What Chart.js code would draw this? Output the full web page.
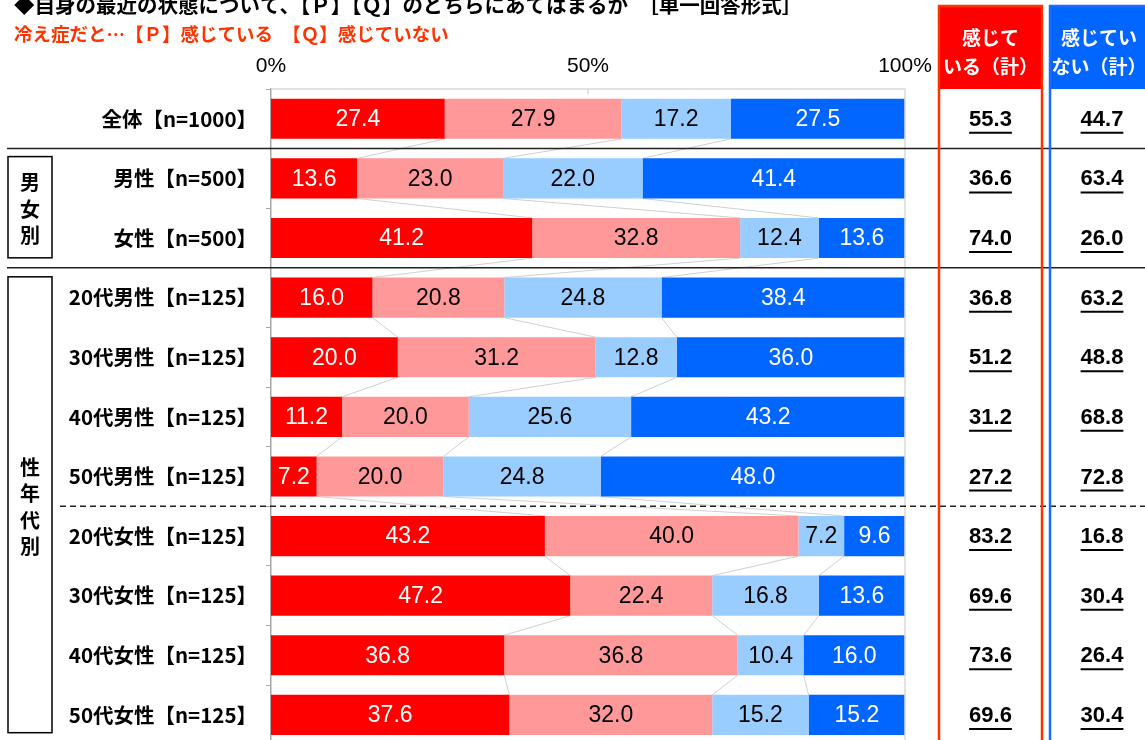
<!DOCTYPE html>
<html>
<head>
<meta charset="utf-8">
<script src="https://cdn.jsdelivr.net/npm/chart.js@4"></script>
<style>
  html, body { margin: 0; padding: 0; background: #fff; overflow: hidden; }
  canvas { display: block; }
</style>
</head>
<body>
<canvas id="chart" width="1145" height="766"></canvas>
<script>
// rows, top to bottom
const categories = [
  "全体【n=1000】",
  "男性【n=500】", "女性【n=500】",
  "20代男性【n=125】", "30代男性【n=125】", "40代男性【n=125】", "50代男性【n=125】",
  "20代女性【n=125】", "30代女性【n=125】", "40代女性【n=125】", "50代女性【n=125】"
];
const seriesNames = ["Pに近い", "どちらかといえばP", "どちらかといえばQ", "Qに近い"];
const pStrong = [27.4, 13.6, 41.2, 16.0, 20.0, 11.2, 7.2, 43.2, 47.2, 36.8, 37.6];
const pWeak   = [27.9, 23.0, 32.8, 20.8, 31.2, 20.0, 20.0, 40.0, 22.4, 36.8, 32.0];
const qWeak   = [17.2, 22.0, 12.4, 24.8, 12.8, 25.6, 24.8,  7.2, 16.8, 10.4, 15.2];
const qStrong = [27.5, 41.4, 13.6, 38.4, 36.0, 43.2, 48.0,  9.6, 13.6, 16.0, 15.2];
// 感じている(計) / 感じていない(計)
const totalFeel    = [55.3, 36.6, 74.0, 36.8, 51.2, 31.2, 27.2, 83.2, 69.6, 73.6, 69.6];
const totalNotFeel = [44.7, 63.4, 26.0, 63.2, 48.8, 68.8, 72.8, 16.8, 30.4, 26.4, 30.4];
const xTicks = [0, 50, 100];

const colors = ["#FF0000", "#FF9999", "#99CCFF", "#0066FF"];
const labelColors = ["#FFFFFF", "#000000", "#000000", "#FFFFFF"];
const seriesValues = [pStrong, pWeak, qWeak, qStrong];

const JP = '"Noto Sans CJK JP", sans-serif';
const NUM = '"Liberation Sans", Arial, sans-serif';

// segment value labels
const barLabels = {
  id: "barLabels",
  afterDatasetsDraw(chart) {
    const c = chart.ctx;
    c.save();
    c.font = "23px " + NUM;
    c.textAlign = "center";
    c.textBaseline = "middle";
    chart.data.datasets.forEach((ds, di) => {
      chart.getDatasetMeta(di).data.forEach((bar, i) => {
        c.fillStyle = labelColors[di];
        c.fillText(ds.data[i].toFixed(1), (bar.x + bar.base) / 2, bar.y + 1);
      });
    });
    c.restore();
  }
};

// thin connector lines between rows
const seriesLines = {
  id: "seriesLines",
  beforeDatasetsDraw(chart) {
    const c = chart.ctx;
    const xs = chart.scales.x;
    const meta = chart.getDatasetMeta(0).data;
    c.save();
    c.strokeStyle = "#D0D0D0";
    c.lineWidth = 1;
    for (let i = 0; i < categories.length - 1; i++) {
      let cumA = 0, cumB = 0;
      for (let k = 0; k < 3; k++) {
        cumA += seriesValues[k][i];
        cumB += seriesValues[k][i + 1];
        c.beginPath();
        c.moveTo(xs.getPixelForValue(cumA), meta[i].y + meta[i].height / 2);
        c.lineTo(xs.getPixelForValue(cumB), meta[i + 1].y - meta[i + 1].height / 2);
        c.stroke();
      }
    }
    c.restore();
  }
};

const decor = {
  id: "decor",
  beforeDraw(chart) {
    const c = chart.ctx;
    c.save();
    c.fillStyle = "#fff";
    c.fillRect(0, 0, chart.width, chart.height);
    c.restore();
  },
  afterDraw(chart) {
    const c = chart.ctx;
    const a = chart.chartArea;
    const step = (a.bottom - a.top) / categories.length;
    const edge = i => a.top + step * i;
    c.save();

    // plot frame
    c.strokeStyle = "#D9D9D9";
    c.lineWidth = 1.5;
    c.beginPath();
    c.moveTo(a.left, a.top);
    c.lineTo(a.right, a.top);
    c.lineTo(a.right, a.bottom);
    c.stroke();
    c.beginPath();
    const mid = chart.scales.x.getPixelForValue(50);
    c.moveTo(mid, a.top);
    c.lineTo(mid, a.top + 5);
    c.stroke();

    // title
    c.textBaseline = "middle";
    c.textAlign = "left";
    c.fillStyle = "#000";
    c.font = "bold 20.5px " + JP;
    c.fillText("◆自身の最近の状態について、【Ｐ】【Ｑ】のどちらにあてはまるか　［単一回答形式］", 14, 5);
    c.fillStyle = "#FF3300";
    c.font = "bold 18.5px " + JP;
    c.fillText("冷え症だと…【Ｐ】感じている　【Ｑ】感じていない", 14, 34);

    // group separators
    c.strokeStyle = "#222";
    c.lineWidth = 1.5;
    [1, 3].forEach(i => {
      c.beginPath();
      c.moveTo(7, edge(i));
      c.lineTo(chart.width, edge(i));
      c.stroke();
    });
    c.setLineDash([6, 4]);
    c.beginPath();
    c.moveTo(60, edge(7));
    c.lineTo(chart.width, edge(7));
    c.stroke();
    c.setLineDash([]);

    // group boxes
    c.strokeStyle = "#000";
    c.lineWidth = 1.5;
    const box = (top, bottom, chars) => {
      c.strokeRect(8, top, 44, bottom - top);
      c.fillStyle = "#000";
      c.font = "bold 20px " + JP;
      c.textAlign = "center";
      const cy = (top + bottom) / 2 + 2;
      chars.forEach((ch, k) => {
        c.fillText(ch, 30, cy + (k - (chars.length - 1) / 2) * 26.5);
      });
    };
    box(edge(1) + 8, edge(3) - 10, ["男", "女", "別"]);
    box(edge(3) + 9, edge(11) - 12, ["性", "年", "代", "別"]);

    // total columns
    const redL = 939, redR = 1042, blueL = 1050, blueR = 1150;
    const hTop = 6, hBot = a.top;
    c.fillStyle = "#FF0000";
    c.fillRect(redL, hTop, redR - redL, hBot - hTop);
    c.fillStyle = "#0066FF";
    c.fillRect(blueL, hTop, blueR - blueL, hBot - hTop);
    c.lineWidth = 2.5;
    c.strokeStyle = "#FF3300";
    c.strokeRect(redL, hTop, redR - redL, chart.height + 10);
    c.strokeStyle = "#1A6CFF";
    c.strokeRect(blueL, hTop, blueR - blueL, chart.height + 10);

    c.fillStyle = "#fff";
    c.font = "bold 19px " + JP;
    c.textAlign = "center";
    const redC = (redL + redR) / 2, blueC = 1099;
    c.fillText("感じて", redC, 38);
    c.fillText("いる（計）", redC, 67);
    c.fillText("感じてい", blueC, 38);
    c.fillText("ない（計）", blueC, 67);

    c.fillStyle = "#000";
    c.strokeStyle = "#000";
    c.lineWidth = 2;
    c.font = "bold 22px " + NUM;
    const meta = chart.getDatasetMeta(0).data;
    const cell = (txt, x, y) => {
      c.fillText(txt, x, y);
      const w = c.measureText(txt).width;
      c.beginPath();
      c.moveTo(x - w / 2, y + 13);
      c.lineTo(x + w / 2, y + 13);
      c.stroke();
    };
    meta.forEach((bar, i) => {
      cell(totalFeel[i].toFixed(1), redC, bar.y + 1);
      cell(totalNotFeel[i].toFixed(1), 1102, bar.y + 1);
    });
    c.restore();
  }
};

new Chart(document.getElementById("chart"), {
  type: "bar",
  data: {
    labels: categories,
    datasets: seriesValues.map((vals, k) => ({
      label: seriesNames[k],
      data: vals,
      backgroundColor: colors[k],
      borderWidth: 0,
      barPercentage: 0.673,
      categoryPercentage: 1.0
    }))
  },
  options: {
    indexAxis: "y",
    responsive: false,
    animation: false,
    devicePixelRatio: 1,
    layout: { padding: { left: 0, right: 240, top: 0, bottom: 0 } },
    plugins: {
      legend: { display: false },
      tooltip: { enabled: false }
    },
    scales: {
      x: {
        position: "top",
        stacked: true,
        min: 0,
        max: 100,
        afterBuildTicks: s => { s.ticks = xTicks.map(v => ({ value: v })); },
        afterFit: s => { s.height = 89; },
        ticks: {
          callback: v => v + "%",
          color: "#000",
          font: { family: NUM, size: 21 },
          padding: 10,
          maxRotation: 0
        },
        grid: { display: false, drawTicks: false },
        border: { display: false }
      },
      y: {
        stacked: true,
        afterFit: s => { s.width = 271; },
        ticks: {
          color: "#000",
          font: { family: JP, size: 20.5, weight: "bold" },
          padding: 9
        },
        grid: {
          offset: true,
          drawOnChartArea: false,
          tickLength: 5,
          color: "#A6A6A6"
        },
        border: { color: "#A6A6A6", width: 1.5 }
      }
    }
  },
  plugins: [seriesLines, barLabels, decor]
});
</script>
</body>
</html>
